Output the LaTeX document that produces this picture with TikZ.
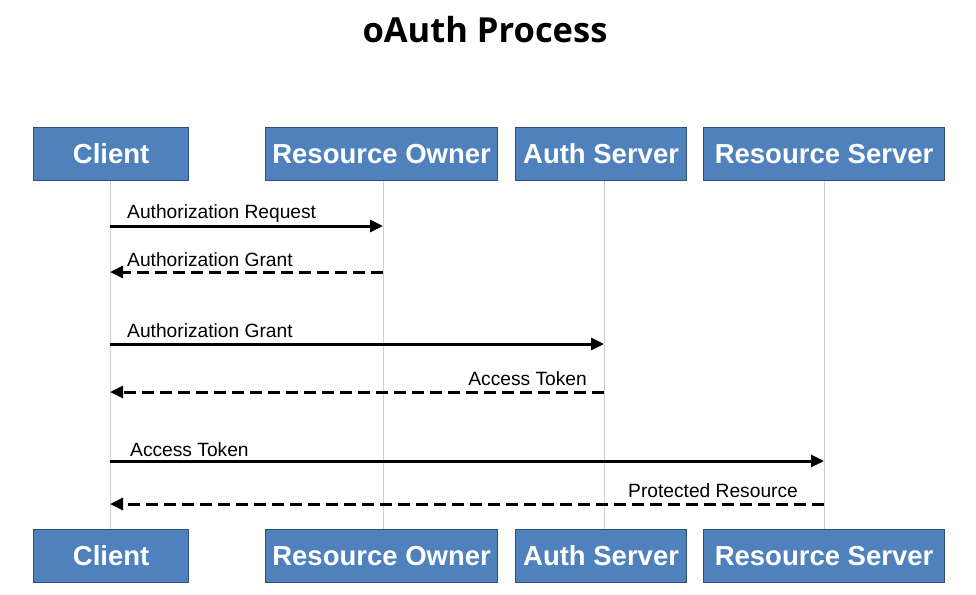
\documentclass[tikz,border=0pt]{standalone}
\usepackage{fontspec}
\setmainfont{Liberation Sans}
\newfontfamily\titlefont{Open Sans}
\usetikzlibrary{arrows.meta}
\definecolor{boxfill}{HTML}{4F81BD}
\definecolor{boxedge}{HTML}{2E4F7A}
\definecolor{lifegray}{HTML}{CFCFCF}
\tikzset{
  actor/.style={draw=boxedge, line width=1.2pt, fill=boxfill, text=white,
    font=\fontsize{27.5}{30}\selectfont\bfseries, minimum height=53pt, inner sep=0pt, anchor=north west},
  life/.style={draw=lifegray, line width=1pt},
  msg/.style={line width=3pt, -{Triangle[length=13pt,width=12pt]}},
  reply/.style={msg, dash pattern=on 12pt off 6pt},
  lbl/.style={font=\fontsize{19.2}{21}\selectfont, inner sep=0pt}
}
\begin{document}
\begin{tikzpicture}[x=1pt,y=-1pt]
\useasboundingbox[fill=white] (0,0) rectangle (976,594);
\node[font=\titlefont\fontsize{34.5}{38}\selectfont\bfseries] (title) at (485,30) {oAuth Process};
% top boxes
\node[actor, minimum width=155pt] (c1) at (33,127) {Client};
\node[actor, minimum width=232pt] (o1) at (265,127) {Resource Owner};
\node[actor, minimum width=171pt] (a1) at (515,127) {Auth Server};
\node[actor, minimum width=241pt] (r1) at (703,127) {Resource Server};
% bottom boxes
\node[actor, minimum width=155pt] (c2) at (33,529) {Client};
\node[actor, minimum width=232pt] (o2) at (265,529) {Resource Owner};
\node[actor, minimum width=171pt] (a2) at (515,529) {Auth Server};
\node[actor, minimum width=241pt] (r2) at (703,529) {Resource Server};
% lifelines
\coordinate (cx) at (110,0); \coordinate (ox) at (383,0);
\coordinate (ax) at (604,0); \coordinate (rx) at (824,0);
\draw[life] (cx |- c1.south) -- (cx |- c2.north);
\draw[life] (ox |- o1.south) -- (ox |- o2.north);
\draw[life] (ax |- a1.south) -- (ax |- a2.north);
\draw[life] (rx |- r1.south) -- (rx |- r2.north);
% messages
\coordinate (m1c) at (110,226); \coordinate (m1o) at (383,226);
\coordinate (m2c) at (110,272); \coordinate (m2o) at (383,272);
\coordinate (m3c) at (110,344); \coordinate (m3a) at (604,344);
\coordinate (m4c) at (110,392); \coordinate (m4a) at (604,392);
\coordinate (m5c) at (110,461); \coordinate (m5r) at (824,461);
\coordinate (m6c) at (110,504); \coordinate (m6r) at (824,504);
\draw[msg] (m1c) -- (m1o);
\draw[reply] (m2o) -- (m2c);
\draw[msg] (m3c) -- (m3a);
\draw[reply] (m4a) -- (m4c);
\draw[msg] (m5c) -- (m5r);
\draw[reply] (m6r) -- (m6c);
% labels
\node[lbl, anchor=west] (l1) at (127,214) {Authorization Request};
\node[lbl, anchor=west] (l2) at (127,260) {Authorization Grant};
\node[lbl, anchor=west] (l3) at (127,331) {Authorization Grant};
\node[lbl, anchor=east] (l4) at (587,379) {Access Token};
\node[lbl, anchor=west] (l5) at (130,450) {Access Token};
\node[lbl, anchor=west] (l6) at (628,491) {Protected Resource};
\end{tikzpicture}
\end{document}
